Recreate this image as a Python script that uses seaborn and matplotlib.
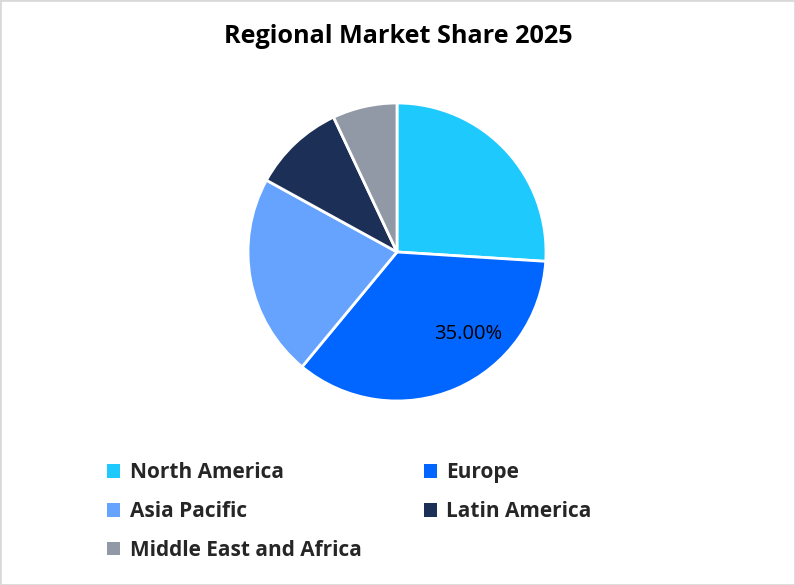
import numpy as np
import seaborn as sns
import matplotlib.pyplot as plt
from matplotlib.patches import Patch, Rectangle

regions = ["North America", "Europe", "Asia Pacific", "Latin America", "Middle East and Africa"]
shares = [26, 35, 22, 10, 7]
colors = ["#1ec9fe", "#0066ff", "#66a3ff", "#1c2f56", "#9199a6"]
title = "Regional Market Share 2025"

sns.set_theme(style="white")
plt.rcParams["font.family"] = ["Open Sans", "DejaVu Sans"]
palette = sns.color_palette(colors)

W, H = 795, 585
fig = plt.figure(figsize=(W / 100, H / 100), dpi=100)
fig.patch.set_facecolor("white")

# pie centred at (397, 252) px, radius 149 px
cx, cy, r = 397, 252, 149
ax = fig.add_axes([(cx - r) / W, (H - cy - r) / H, 2 * r / W, 2 * r / H])
wedges, _ = ax.pie(shares, colors=palette, startangle=90, counterclock=False,
                   wedgeprops=dict(edgecolor="white", linewidth=2))
ax.set_xlim(-1, 1)
ax.set_ylim(-1, 1)
ax.set_aspect("equal")
ax.axis("off")

# only the largest slice gets a data label
big = int(np.argmax(shares))
w = wedges[big]
ang = np.deg2rad(w.theta2 - 0.36 * (w.theta2 - w.theta1))
ax.text(0.73 * np.cos(ang), 0.73 * np.sin(ang), f"{shares[big]:.2f}%",
        ha="center", va="center", fontsize=14.5, color="black")

fig.text(398 / W, 1 - 43 / H, title, ha="center", va="baseline",
         fontsize=18.2, fontweight="bold", color="black")

# legend filled row-wise (matplotlib fills column-wise, so reorder)
handles = [Patch(facecolor=c, edgecolor="none", label=l) for l, c in zip(regions, palette)]
order = [0, 2, 4, 1, 3]
leg = fig.legend([handles[i] for i in order], [regions[i] for i in order],
                 ncol=2, loc="upper left", bbox_to_anchor=(97 / W, 1 - 452 / H),
                 frameon=False, borderpad=0, handlelength=0.62, handleheight=0.62,
                 handletextpad=0.45, labelspacing=0.85, columnspacing=3.0,
                 prop=dict(size=15, weight="bold"))

fig.add_artist(Rectangle((0, 0), 1, 1, transform=fig.transFigure, fill=False,
                         edgecolor="#d9d9d9", linewidth=2))

plt.savefig("out.png", dpi=100)
